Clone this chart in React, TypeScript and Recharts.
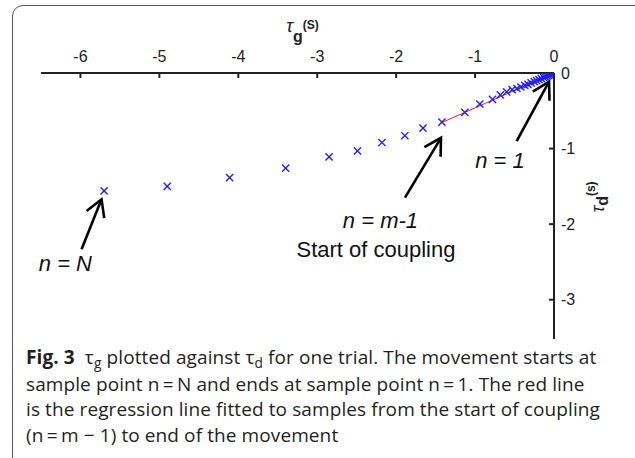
import React from "react";
import { ScatterChart, Scatter, XAxis, YAxis, ReferenceLine, ReferenceDot, Label } from "recharts";

// tau_g (s) and tau_d (s) for each sample, from n = N down to n = 1
const tauG = [
  -5.7, -4.9, -4.11, -3.4, -2.85, -2.49, -2.18, -1.89, -1.66, -1.42, -1.13, -0.94, -0.78, -0.68,
  -0.6, -0.53, -0.47, -0.42, -0.37, -0.33, -0.29, -0.25, -0.22, -0.19, -0.16, -0.13, -0.11, -0.09,
  -0.07, -0.05, -0.035, -0.02, -0.01, 0,
];
const tauD = [
  -1.56, -1.5, -1.385, -1.26, -1.11, -1.03, -0.92, -0.83, -0.73, -0.65, -0.52, -0.41, -0.35, -0.29,
  -0.25, -0.22, -0.205, -0.185, -0.165, -0.15, -0.13, -0.115, -0.1, -0.088, -0.075, -0.062, -0.052,
  -0.042, -0.033, -0.024, -0.017, -0.01, -0.005, 0,
];

// regression line, start of coupling (n = m-1) to end of movement
const fitG = [-1.42, 0];
const fitD = [-0.655, 0];

const xTicks = [-6, -5, -4, -3, -2, -1, 0];
const yTicks = [0, -1, -2, -3];

// arrows: tail -> head, in data units
const arrowFrom = [[-0.473, -0.902], [-1.888, -1.649], [-5.986, -2.331]];
const arrowTo = [[-0.063, -0.115], [-1.432, -0.858], [-5.733, -1.672]];

const noteText = ["n = 1", "n = m-1", "Start of coupling", "n = N"];
const noteAt = [[-0.684, -1.263], [-2.199, -2.054], [-2.256, -2.437], [-6.191, -2.62]];
const noteItalic = [true, true, false, true];

const points = tauG.map((g, i) => ({ g, d: tauD[i] }));
const fit = fitG.map((g, i) => ({ g, d: fitD[i] }));

const FONT = "'Liberation Sans', Arial, sans-serif";

function Cross(props: any) {
  const { cx, cy } = props;
  const s = 3.6;
  return (
    <g stroke="#1f1fff" strokeWidth={1.4}>
      <line x1={cx - s} y1={cy - s} x2={cx + s} y2={cy + s} />
      <line x1={cx - s} y1={cy + s} x2={cx + s} y2={cy - s} />
    </g>
  );
}

function Arrow(props: any) {
  const { x1, y1, x2, y2 } = props;
  const len = Math.hypot(x1 - x2, y1 - y2);
  const ux = (x1 - x2) / len;
  const uy = (y1 - y2) / len;
  const a = Math.PI / 6;
  const L = 19;
  const ax = x2 + L * (ux * Math.cos(a) - uy * Math.sin(a));
  const ay = y2 + L * (ux * Math.sin(a) + uy * Math.cos(a));
  const bx = x2 + L * (ux * Math.cos(-a) - uy * Math.sin(-a));
  const by = y2 + L * (ux * Math.sin(-a) + uy * Math.cos(-a));
  return (
    <g stroke="#000" strokeWidth={2.6} fill="none">
      <line x1={x1} y1={y1} x2={x2} y2={y2} />
      <polyline points={`${ax},${ay} ${x2},${y2} ${bx},${by}`} />
    </g>
  );
}

function TauGTitle(props: any) {
  const vb = props.viewBox || { x: 41, y: 33, width: 513 };
  return (
    <text x={vb.x + vb.width / 2 + 5} y={vb.y - 1} textAnchor="middle" fill="#222" fontFamily={FONT}>
      <tspan fontStyle="italic" fontSize={18}>τ</tspan>
      <tspan fontWeight="bold" fontSize={16} dy={10}>g</tspan>
      <tspan fontWeight="bold" fontSize={12} dy={-13}>(S)</tspan>
    </text>
  );
}

function TauDTitle(props: any) {
  const vb = props.viewBox || { x: 554, y: 73, height: 266 };
  const x = vb.x + 50;
  const y = vb.y + 124;
  return (
    <text x={x} y={y} transform={`rotate(-90, ${x}, ${y})`} textAnchor="middle" fill="#222" fontFamily={FONT}>
      <tspan fontStyle="italic" fontSize={18}>τ</tspan>
      <tspan fontWeight="bold" fontSize={16} dy={4}>d</tspan>
      <tspan fontWeight="bold" fontSize={12} dy={-13}>(s)</tspan>
    </text>
  );
}

const captionFont = "'Open Sans', 'Noto Sans', sans-serif";
const sub = { fontSize: "0.72em", position: "relative" as const, top: 4 };

export default function App() {
  return (
    <div style={{ position: "fixed", left: 0, top: 0, width: 635, height: 458, overflow: "hidden", background: "#fff" }}>
      <div
        style={{
          position: "absolute", left: 12, top: 5, width: 700, height: 520,
          border: "1.5px solid #555", borderRadius: 11,
        }}
      />
      <div style={{ position: "absolute", left: 0, top: 0 }}>
        <ScatterChart width={635} height={350} margin={{ top: 33, right: 21, bottom: 11, left: 41 }}>
          <XAxis
            type="number" dataKey="g" orientation="top" height={40}
            domain={[-6.5, 0]} ticks={xTicks} interval={0} allowDataOverflow
            axisLine={{ stroke: "#222", strokeWidth: 2 }} tickLine={{ stroke: "#222", strokeWidth: 2 }}
            tickSize={-5} tickMargin={16}
            tick={{ fill: "#222", fontSize: 16, fontFamily: FONT }}
          >
            <Label content={TauGTitle} />
          </XAxis>
          <YAxis
            type="number" dataKey="d" orientation="right" width={60}
            domain={[-3.52, 0]} ticks={yTicks} interval={0} allowDataOverflow
            axisLine={{ stroke: "#222", strokeWidth: 2 }} tickLine={{ stroke: "#222", strokeWidth: 2 }}
            tickSize={-5} tickMargin={12}
            tick={{ fill: "#222", fontSize: 16, fontFamily: FONT, textAnchor: "start" }}
          >
            <Label content={TauDTitle} />
          </YAxis>
          <Scatter data={fit} line={{ stroke: "#ff2020", strokeWidth: 1 }} shape={() => <g />} isAnimationActive={false} />
          <Scatter data={points} shape={Cross} isAnimationActive={false} />
          {arrowFrom.map((f, i) => (
            <ReferenceLine
              key={`arrow-${i}`}
              segment={[{ x: f[0], y: f[1] }, { x: arrowTo[i][0], y: arrowTo[i][1] }]}
              shape={Arrow}
            />
          ))}
          {noteText.map((t, i) => (
            <ReferenceDot
              key={`note-${i}`}
              x={noteAt[i][0]} y={noteAt[i][1]} r={0}
              shape={(p: any) => (
                <text x={p.cx} y={p.cy} textAnchor="middle" fontSize={22} fontFamily={FONT}
                  fontStyle={noteItalic[i] ? "italic" : "normal"} fill="#111">
                  {t}
                </text>
              )}
            />
          ))}
        </ScatterChart>
      </div>
      <div
        style={{
          position: "absolute", left: 26, top: 345, fontFamily: captionFont, fontSize: 19,
          letterSpacing: 0.1, lineHeight: "25.5px", color: "#231f20", whiteSpace: "nowrap",
        }}
      >
        <div>
          <b>Fig. 3</b>&nbsp; τ<span style={sub}>g</span> plotted against τ<span style={sub}>d</span> for one trial. The movement starts at
        </div>
        <div>sample point n{"\u2009=\u2009"}N and ends at sample point n{"\u2009=\u2009"}1. The red line</div>
        <div>is the regression line fitted to samples from the start of coupling</div>
        <div>(n{"\u2009=\u2009"}m − 1) to end of the movement</div>
      </div>
    </div>
  );
}
